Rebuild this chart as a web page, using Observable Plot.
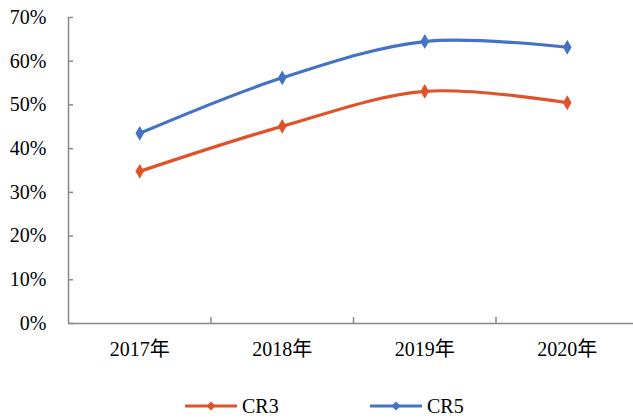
<!DOCTYPE html>
<html>
<head>
<meta charset="utf-8">
<script src="https://cdn.jsdelivr.net/npm/d3@7"></script>
<script src="https://cdn.jsdelivr.net/npm/@observablehq/plot@0.6"></script>
<style>
  html, body { margin: 0; padding: 0; background: #fff; overflow: hidden; }
  #wrap { position: relative; width: 633px; height: 419px; }
  #legend { position: absolute; left: 0; top: 394px; width: 633px; height: 24px;
    font-family: "Liberation Serif", "DejaVu Serif", serif; font-size: 20px; color: #000; }
  .item { position: absolute; top: 0; height: 24px; display: flex; align-items: center; }
  .item svg { margin-right: 5px; }
  svg text { font-family: "Liberation Serif", "DejaVu Serif", "Noto Sans CJK SC", serif !important; }
</style>
</head>
<body>
<div id="wrap"><div id="chart"></div><div id="legend"></div></div>
<script>
const years = ["2017年", "2018年", "2019年", "2020年"];
const seriesNames = ["CR3", "CR5"];
const cr3 = [0.348, 0.451, 0.531, 0.505];
const cr5 = [0.435, 0.562, 0.645, 0.632];
const yTicks = [0, 0.1, 0.2, 0.3, 0.4, 0.5, 0.6, 0.7];
const colors = ["#E0522A", "#4472C4"];

const font = "Liberation Serif, DejaVu Serif, Noto Sans CJK SC, serif";
const rows = [];
[cr3, cr5].forEach((vals, s) => vals.forEach((v, i) => rows.push({series: seriesNames[s], i, v})));
const axisColor = "#898989";

const chart = Plot.plot({
  width: 633,
  height: 375,
  marginLeft: 68,
  marginRight: 0,
  marginTop: 17,
  marginBottom: 52,
  style: {fontFamily: font, color: "#000", background: "#fff"},
  x: {type: "linear", domain: [-0.5, 3.5], range: [68, 638]},
  y: {domain: [0, 0.7], range: [323, 17]},
  color: {domain: seriesNames, range: colors},
  marks: [
    Plot.ruleY([0], {x1: -0.5, x2: 3.5, stroke: axisColor, strokeWidth: 1.5}),
    Plot.ruleX([-0.5], {y1: 0, y2: 0.7, stroke: axisColor, strokeWidth: 1.5}),
    Plot.axisY(yTicks, {anchor: "left", tickSize: 0, tickPadding: 22, label: null, fontFamily: font,
      tickFormat: d => Math.round(d * 100) + "%", fontSize: 20, fill: "#000"}),
    Plot.axisY(yTicks, {anchor: "left", tickSize: 5, dx: 5, text: null, label: null,
      stroke: axisColor, strokeWidth: 1.5}),
    Plot.axisX([0.5, 1.5, 2.5], {anchor: "bottom", tickSize: 6, dy: -6, text: null, label: null,
      stroke: axisColor, strokeWidth: 1.5}),
    Plot.axisX([0, 1, 2, 3], {anchor: "bottom", tickSize: 0, tickPadding: 18, label: null, fontFamily: font,
      tickFormat: i => years[i], fontSize: 20, fill: "#000"}),
    Plot.line(rows, {x: "i", y: "v", z: "series", stroke: "series", strokeWidth: 3.2, curve: "catmull-rom"}),
    Plot.dot(rows, {x: "i", y: "v", fill: "series", symbol: "diamond", r: 4.5, stroke: null})
  ]
});
document.getElementById("chart").appendChild(chart);

const legend = document.getElementById("legend");
const lefts = [185, 370];
seriesNames.forEach((name, k) => {
  const item = document.createElement("div");
  item.className = "item";
  item.style.left = lefts[k] + "px";
  item.innerHTML = `<svg width="52" height="14"><line x1="1" x2="51" y1="7" y2="7" stroke="${colors[k]}" stroke-width="3.2" stroke-linecap="round"/><path d="M26,2.5L30.5,7L26,11.5L21.5,7Z" fill="${colors[k]}"/></svg><span>${name}</span>`;
  legend.appendChild(item);
});
</script>
</body>
</html>
